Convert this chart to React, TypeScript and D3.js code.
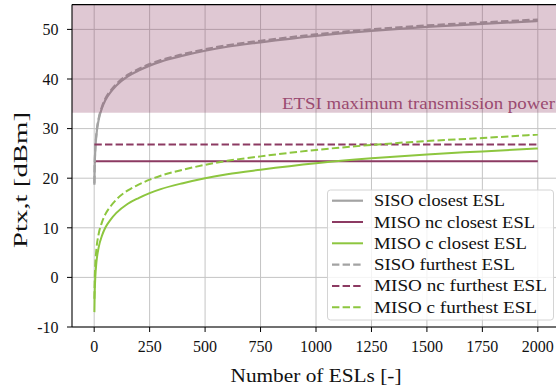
import React from 'react';
import * as d3 from 'd3';

// number of ESLs sampled along the curves
const nEsl = [1, 2, 3, 5, 10, 20, 35, 50, 75, 100, 150, 200, 250, 300, 400, 500, 600, 750, 1000, 1250, 1500, 1750, 2000];

// Ptx,t [dBm]
const sisoClosest = [18.7, 21.7, 23.5, 25.7, 28.7, 31.7, 34.1, 35.7, 37.4, 38.7, 40.5, 41.7, 42.7, 43.5, 44.7, 45.7, 46.5, 47.4, 48.7, 49.7, 50.5, 51.1, 51.7];
const sisoFurthest = [19.0, 22.0, 23.8, 26.0, 29.0, 32.0, 34.4, 36.0, 37.7, 39.0, 40.8, 42.0, 43.0, 43.8, 45.0, 46.0, 46.8, 47.7, 49.0, 50.0, 50.8, 51.4, 52.0];
const misoCClosest = [-7.0, -4.0, -2.2, 0.0, 3.0, 6.0, 8.4, 10.0, 11.7, 13.0, 14.8, 16.0, 17.0, 17.8, 19.0, 20.0, 20.8, 21.7, 23.0, 24.0, 24.8, 25.4, 26.0];
const misoCFurthest = [-4.3, -1.3, 0.5, 2.7, 5.7, 8.7, 11.1, 12.7, 14.4, 15.7, 17.5, 18.7, 19.7, 20.5, 21.7, 22.7, 23.5, 24.4, 25.7, 26.7, 27.5, 28.1, 28.8];
const misoNcClosest = nEsl.map(() => 23.4);
const misoNcFurthest = nEsl.map(() => 26.8);

const etsiLimit = 33.2;

const xTicks = [0, 250, 500, 750, 1000, 1250, 1500, 1750, 2000];
const yTicks = [-10, 0, 10, 20, 30, 40, 50];

const GRAY = '#a3a3a3';
const PURPLE = '#8c3a62';
const GREEN = '#8dc63f';

const series = [
  { name: 'SISO closest ESL', values: sisoClosest, color: GRAY, dash: null, w: 2.2 },
  { name: 'MISO nc closest ESL', values: misoNcClosest, color: PURPLE, dash: null, w: 2 },
  { name: 'MISO c closest ESL', values: misoCClosest, color: GREEN, dash: null, w: 2 },
  { name: 'SISO furthest ESL', values: sisoFurthest, color: GRAY, dash: '7.4,3.2', w: 2.2 },
  { name: 'MISO nc furthest ESL', values: misoNcFurthest, color: PURPLE, dash: '7.4,3.2', w: 2 },
  { name: 'MISO c furthest ESL', values: misoCFurthest, color: GREEN, dash: '7.4,3.2', w: 2 },
];
const legendWidths = [131, 161, 153, 141, 173, 163];

const W = 556, H = 390;
const left = 72, top = 4.6, bottom = 327, right = 560;
const FONT = "'Liberation Serif', serif";

export default function App() {
  const x = d3.scaleLinear().domain([-100, 2100]).range([left, right]);
  const y = d3.scaleLinear().domain([-10, 55]).range([bottom, top]);

  const line = (vals: number[]) =>
    d3.line<number>()
      .x((_, i) => x(nEsl[i]))
      .y((d) => y(d))
      .curve(d3.curveMonotoneX)(vals) || '';

  const rowY = (i: number) => 200.7 + i * 21.3;

  return (
    <svg width={W} height={H} style={{ position: 'absolute', left: 0, top: 0, fontFamily: FONT }}>
      <rect x={0} y={0} width={W} height={H} fill="#fff" />
      <defs>
        <clipPath id="plot">
          <rect x={left} y={top} width={right - left} height={bottom - top} />
        </clipPath>
      </defs>

      {/* grid */}
      <g stroke="#c4c4c4" strokeWidth={1}>
        {xTicks.map((t) => (
          <line key={'gx' + t} x1={x(t)} x2={x(t)} y1={top} y2={bottom} />
        ))}
        {yTicks.map((t) => (
          <line key={'gy' + t} x1={left} x2={right} y1={y(t)} y2={y(t)} />
        ))}
      </g>

      {/* curves */}
      <g clipPath="url(#plot)" fill="none">
        {series.map((s) => (
          <path key={s.name} d={line(s.values)} stroke={s.color} strokeWidth={s.w}
                strokeDasharray={s.dash || undefined} />
        ))}
      </g>

      {/* ETSI band */}
      <rect x={left} y={y(55)} width={right - left} height={y(etsiLimit) - y(55)}
            fill={PURPLE} fillOpacity={0.28} />
      <text x={555} y={108.5} textAnchor="end" fontSize={17} fill="#9a4a70"
            textLength={273} lengthAdjust="spacingAndGlyphs">ETSI maximum transmission power</text>

      {/* legend */}
      <rect x={327.5} y={190} width={226} height={130} rx={3} fill="#fff" fillOpacity={0.8}
            stroke="#d4d4d4" strokeWidth={1} />
      {series.map((s, i) => (
        <g key={'lg' + s.name}>
          <line x1={332} x2={363} y1={rowY(i)} y2={rowY(i)} stroke={s.color} strokeWidth={s.w}
                strokeDasharray={s.dash || undefined} />
          <text x={374} y={rowY(i) + 5.5} fontSize={17} fill="#111"
                textLength={legendWidths[i]} lengthAdjust="spacingAndGlyphs">{s.name}</text>
        </g>
      ))}

      {/* spines */}
      <g stroke="#000" strokeWidth={1.1}>
        <line x1={left} x2={left} y1={top} y2={bottom} />
        <line x1={left} x2={W} y1={top} y2={top} />
        <line x1={left} x2={W} y1={bottom} y2={bottom} />
      </g>

      {/* ticks */}
      <g fontSize={16} fill="#111">
        {xTicks.map((t) => (
          <g key={'tx' + t}>
            <line x1={x(t)} x2={x(t)} y1={bottom} y2={bottom + 5} stroke="#000" strokeWidth={1} />
            <text x={x(t)} y={351.5} textAnchor="middle">{t}</text>
          </g>
        ))}
        {yTicks.map((t) => (
          <g key={'ty' + t}>
            <line x1={left - 5} x2={left} y1={y(t)} y2={y(t)} stroke="#000" strokeWidth={1} />
            <text x={58.5} y={y(t) + 5.8} textAnchor="end">{t}</text>
          </g>
        ))}
      </g>

      {/* axis labels */}
      <text x={316} y={382} textAnchor="middle" fontSize={18} fill="#111"
            textLength={171} lengthAdjust="spacingAndGlyphs">Number of ESLs [-]</text>
      <text transform="translate(26.5,180) rotate(-90)" textAnchor="middle" fontSize={18} fill="#111"
            textLength={136} lengthAdjust="spacingAndGlyphs">Ptx,t [dBm]</text>
    </svg>
  );
}
